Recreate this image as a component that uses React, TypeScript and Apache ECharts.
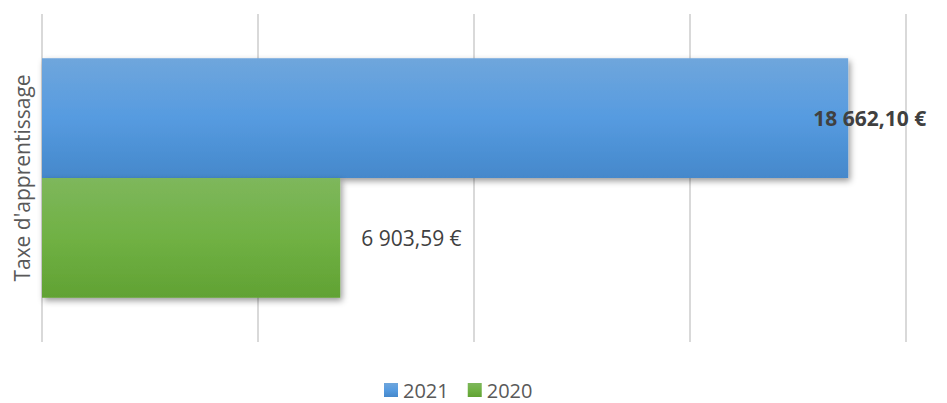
import React, { useEffect, useRef } from "react";
import * as echarts from "echarts";

const categories = ["Taxe d'apprentissage"];
const seriesNames = ["2021", "2020"];
const values2021 = [18662.1];
const values2020 = [6903.59];
const labels2021 = ["18 662,10 €"];
const labels2020 = ["6 903,59 €"];

const FONT = "'Open Sans', sans-serif";

export default function App() {
  const ref = useRef<HTMLDivElement>(null);
  useEffect(() => {
    if (!ref.current) return;
    const chart = echarts.init(ref.current, undefined, { renderer: "svg" });
    const shadow = {
      shadowColor: "rgba(0,0,0,0.4)",
      shadowBlur: 6,
      shadowOffsetX: 2,
      shadowOffsetY: 3,
    };
    chart.setOption({
      animation: false,
      textStyle: { fontFamily: FONT },
      grid: {
        left: 42,
        right: 41,
        top: 14,
        bottom: 61,
        containLabel: false,
        outerBoundsMode: "none",
      },
      legend: {
        data: seriesNames,
        top: 380,
        left: 384,
        padding: 0,
        itemWidth: 14,
        itemHeight: 14,
        itemGap: 19,
        icon: "rect",
        textStyle: {
          fontSize: 20,
          lineHeight: 18,
          color: "#595959",
          fontFamily: FONT,
        },
      },
      xAxis: {
        type: "value",
        min: 0,
        max: 20000,
        interval: 5000,
        axisLabel: { show: false },
        axisLine: { show: false },
        axisTick: { show: false },
        splitLine: { show: true, lineStyle: { color: "#d9d9d9", width: 2 } },
      },
      yAxis: {
        type: "category",
        data: categories,
        axisLabel: { show: false },
        axisTick: { show: false },
        axisLine: { show: false },
        name: categories[0],
        nameLocation: "middle",
        nameRotate: 90,
        nameGap: 10,
        nameTextStyle: { fontSize: 21, color: "#595959", fontFamily: FONT },
        inverse: true,
      },
      series: [
        {
          name: seriesNames[0],
          type: "bar",
          data: values2021,
          barGap: "0%",
          barCategoryGap: "27%",
          itemStyle: {
            color: new echarts.graphic.LinearGradient(0, 0, 0, 1, [
              { offset: 0, color: "#6fa6dc" },
              { offset: 0.5, color: "#569be0" },
              { offset: 1, color: "#4588cb" },
            ]),
            ...shadow,
          },
          label: {
            show: true,
            position: "right",
            distance: -35,
            formatter: (p: any) => labels2021[p.dataIndex],
            fontSize: 21,
            fontWeight: "bold",
            color: "#404040",
            fontFamily: FONT,
          },
        },
        {
          name: seriesNames[1],
          type: "bar",
          data: values2020,
          itemStyle: {
            color: new echarts.graphic.LinearGradient(0, 0, 0, 1, [
              { offset: 0, color: "#7eb75c" },
              { offset: 0.5, color: "#70b144" },
              { offset: 1, color: "#61a233" },
            ]),
            ...shadow,
          },
          label: {
            show: true,
            position: "right",
            distance: 21,
            formatter: (p: any) => labels2020[p.dataIndex],
            fontSize: 21,
            color: "#404040",
            fontFamily: FONT,
          },
        },
      ],
    });
    return () => chart.dispose();
  }, []);
  return (
    <div
      ref={ref}
      style={{ position: "absolute", left: 0, top: 0, width: 947, height: 403 }}
    />
  );
}
